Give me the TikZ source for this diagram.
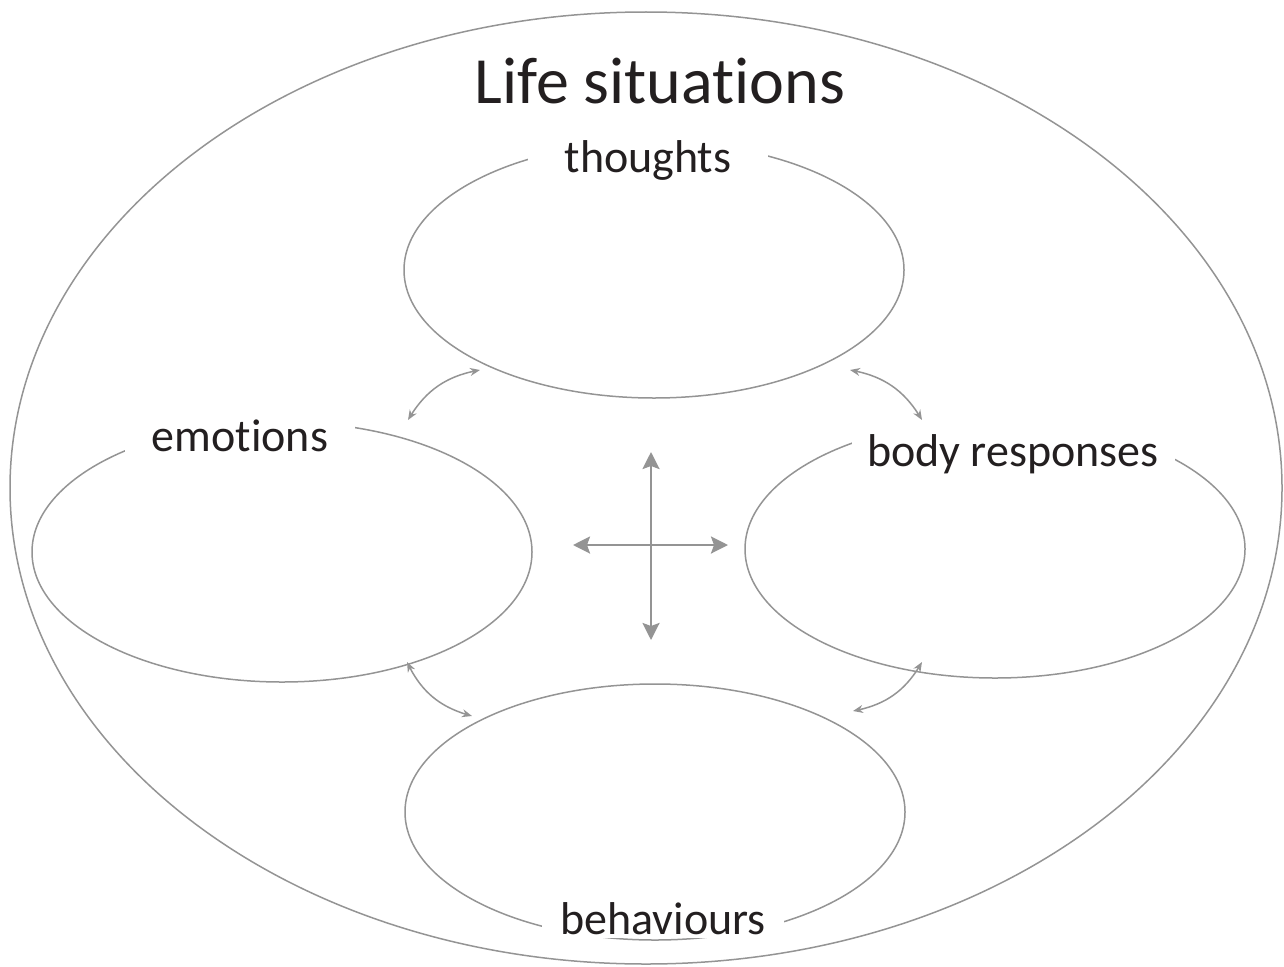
\documentclass[tikz,border=0pt]{standalone}
\usepackage{fontspec}
\setmainfont{Carlito}[Ligatures={NoCommon,NoRare}]
\usetikzlibrary{shapes.geometric,arrows.meta,bending}
\definecolor{ln}{HTML}{949494}
\definecolor{tx}{HTML}{231F20}
\begin{document}
\begin{tikzpicture}[x=1pt,y=-1pt,
  oval/.style={ellipse,draw=ln,line width=1.5pt,inner sep=0pt,outer sep=0pt},
  lbl/.style={fill=white,text=tx,inner ysep=4pt,inner xsep=0pt,anchor=base,
    font=\fontsize{46}{50}\selectfont},
  sarrow/.style={draw=ln,line width=1.5pt,{Stealth[length=10pt,width=8pt]}-{Stealth[length=10pt,width=8pt]}},
  barrow/.style={draw=ln,line width=2.6pt,{Stealth[length=17pt,width=17pt,inset=3pt]}-{Stealth[length=17pt,width=17pt,inset=3pt]}}]
\useasboundingbox (0,0) rectangle (1284,966);
% outer
\node[oval,minimum width=1272pt,minimum height=952pt] (life) at (646,488) {};
\node[text=tx,anchor=base,font=\fontsize{66}{70}\selectfont,inner sep=0pt] (lifet) at (660,103) {Life situat\kern0pt ions};
% inner ellipses
\node[oval,minimum width=500pt,minimum height=256pt] (th) at (654,270) {};
\node[oval,minimum width=500pt,minimum height=260pt] (em) at (282,552) {};
\node[oval,minimum width=500pt,minimum height=258pt] (bo) at (995,549) {};
\node[oval,minimum width=500pt,minimum height=256pt] (be) at (655,812) {};
% labels
\node[lbl,minimum width=240pt] (thl) at (648,172) {thoughts};
\node[lbl,minimum width=230pt] (eml) at (240,451) {emot\kern0pt ions};
\node[lbl,minimum width=323pt,inner ysep=20pt] (bol) at (1013,466) {body responses};
\node[lbl,minimum width=242pt] (bel) at (663,934) {behaviours};
% small arrows
\coordinate (a1s) at (408,420); \coordinate (a1e) at (480,370);
\coordinate (a2s) at (850,370); \coordinate (a2e) at (922,420);
\coordinate (a3s) at (407,662); \coordinate (a3e) at (472,716);
\coordinate (a4s) at (922,662); \coordinate (a4e) at (853,711);
\draw[sarrow] (a1s) to[bend left=25] (a1e);
\draw[sarrow] (a2s) to[bend left=25] (a2e);
\draw[sarrow] (a3s) to[bend right=25] (a3e);
\draw[sarrow] (a4s) to[bend left=25] (a4e);
% centre cross
\coordinate (ct) at (651,452); \coordinate (cb) at (651,640);
\coordinate (cl) at (573,545); \coordinate (cr) at (728,545);
\draw[barrow] (ct) -- (cb);
\draw[barrow] (cl) -- (cr);
\end{tikzpicture}
\end{document}
